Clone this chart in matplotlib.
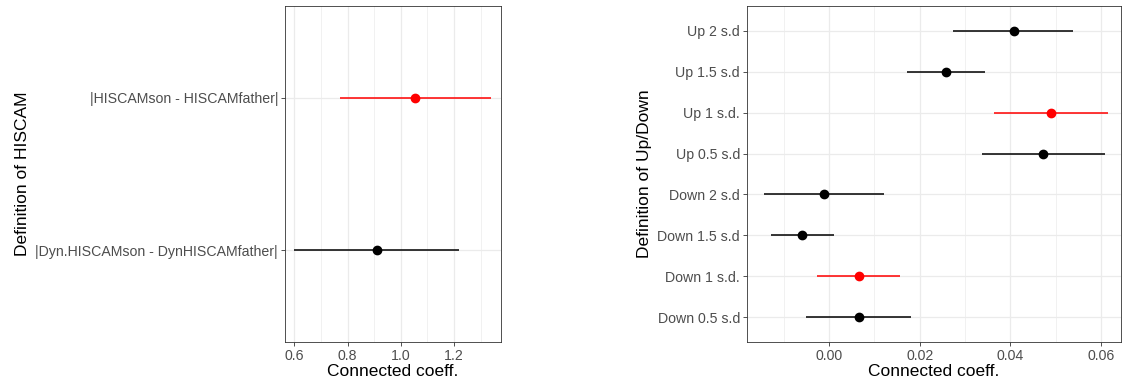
import matplotlib
matplotlib.use("Agg")
import matplotlib.pyplot as plt
from matplotlib.ticker import FixedLocator

plt.rcParams['font.family'] = ['Liberation Sans', 'DejaVu Sans']

# Left panel data
left_labels = ["|Dyn.HISCAMson - DynHISCAMfather|", "|HISCAMson - HISCAMfather|"]
left_est = [0.910, 1.055]
left_lo = [0.600, 0.772]
left_hi = [1.219, 1.340]
left_colors = ["black", "red"]
left_xticks = [0.6, 0.8, 1.0, 1.2]

# Right panel data
right_labels = ["Down 0.5 s.d", "Down 1 s.d.", "Down 1.5 s.d", "Down 2 s.d",
                "Up 0.5 s.d", "Up 1 s.d.", "Up 1.5 s.d", "Up 2 s.d"]
right_est = [0.0065, 0.0065, -0.0060, -0.0011, 0.0472, 0.0489, 0.0258, 0.0407]
right_lo = [-0.0051, -0.0026, -0.0129, -0.0144, 0.0337, 0.0363, 0.0171, 0.0274]
right_hi = [0.0180, 0.0156, 0.0010, 0.0121, 0.0609, 0.0615, 0.0344, 0.0538]
right_colors = ["black", "red", "black", "black", "black", "red", "black", "black"]
right_xticks = [0.00, 0.02, 0.04, 0.06]

fig = plt.figure(figsize=(11.22, 3.85), dpi=100)
ax1 = fig.add_axes([285/1122, 43/385, 216/1122, 336/385])
ax2 = fig.add_axes([747/1122, 43/385, 374/1122, 336/385])


def style(ax, labels, est, lo, hi, colors, xticks, xlim, minor, ylabel, fmt):
    n = len(labels)
    ys = list(range(1, n + 1))
    ax.set_axisbelow(True)
    for y, e, l, h, c in zip(ys, est, lo, hi, colors):
        ax.hlines(y, l, h, color=c, lw=1.1, zorder=3)
        ax.plot([e], [y], 'o', color=c, ms=6, zorder=4)
    ax.set_xlim(*xlim)
    ax.set_ylim(0.4, n + 0.6)
    ax.set_yticks(ys)
    ax.set_yticklabels(labels)
    ax.xaxis.set_major_locator(FixedLocator(xticks))
    ax.set_xticklabels([fmt.format(v) for v in xticks])
    ax.xaxis.set_minor_locator(FixedLocator(minor))
    ax.grid(True, which='major', color='#EBEBEB', lw=0.9)
    ax.grid(True, which='minor', axis='x', color='#EBEBEB', lw=0.5)
    ax.tick_params(axis='both', which='major', length=3, width=0.6, color='#333333',
                   labelcolor='#4D4D4D', labelsize=10.2, pad=2)
    ax.tick_params(axis='x', which='minor', length=0)
    for s in ax.spines.values():
        s.set_color('#333333')
        s.set_linewidth(0.6)
    ax.set_xlabel("Connected coeff.", fontsize=12.5, labelpad=1)
    ax.set_ylabel(ylabel, fontsize=12.5, labelpad=4)


style(ax1, left_labels, left_est, left_lo, left_hi, left_colors, left_xticks,
      (0.565, 1.377), [0.7, 0.9, 1.1, 1.3], "Definition of HISCAM", "{:.1f}")
style(ax2, right_labels, right_est, right_lo, right_hi, right_colors, right_xticks,
      (-0.0181, 0.0644), [-0.01, 0.01, 0.03, 0.05], "Definition of Up/Down", "{:.2f}")

fig.savefig("out.png", dpi=100)
